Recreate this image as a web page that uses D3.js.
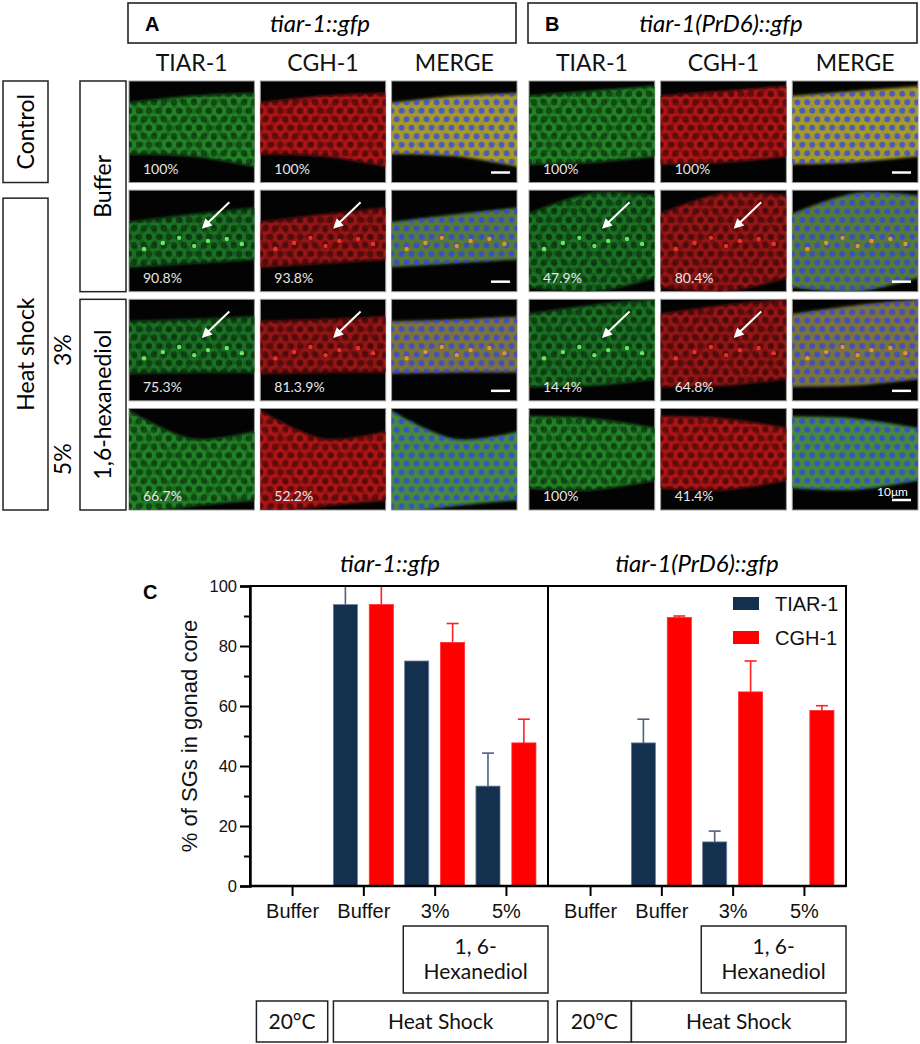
<!DOCTYPE html>
<html><head><meta charset="utf-8">
<script src="https://cdn.jsdelivr.net/npm/d3@7"></script>
<style>body{margin:0;background:#fff}svg{display:block}</style>
</head><body>
<svg id="fig" width="920" height="1044"></svg>
<script>
// ---------------- DATA ----------------
const strains = ["tiar-1::gfp", "tiar-1(PrD6)::gfp"];
const panelLetters = ["A", "B"];
const channels = ["TIAR-1", "CGH-1", "MERGE"];
const rowKeys = ["control", "buffer", "hex3", "hex5"];
const pctA_TIAR = ["100%", "90.8%", "75.3%", "66.7%"];
const pctA_CGH = ["100%", "93.8%", "81.3.9%", "52.2%"];
const pctB_TIAR = ["100%", "47.9%", "14.4%", "100%"];
const pctB_CGH = ["100%", "80.4%", "64.8%", "41.4%"];
const arrowRows = [false, true, true, false];
const scaleBarA = [true, true, true, false];
const scaleBarB = [true, true, true, true];

const catKeys = ["ctrl", "hs", "hx3", "hx5"];
const catLabels = ["Buffer", "Buffer", "3%", "5%"];
const seriesNames = ["TIAR-1", "CGH-1"];
const yTicks = [0, 20, 40, 60, 80, 100];
const yMinorTicks = [10, 30, 50, 70, 90];
// tiar-1::gfp
const gfpTIAR = [0, 93.8, 75.0, 33.3];
const gfpTIARerr = [0, 6.2, 0, 11.0];
const gfpCGH = [0, 93.8, 81.2, 47.7];
const gfpCGHerr = [0, 6.2, 6.3, 7.9];
// tiar-1(PrD6)::gfp
const prdTIAR = [0, 47.7, 14.7, 0];
const prdTIARerr = [0, 7.9, 3.6, 0];
const prdCGH = [0, 89.5, 64.7, 58.5];
const prdCGHerr = [0, 0.5, 10.3, 1.6];

// ---------------- SETUP ----------------
const svg = d3.select("#fig");
const CAL = "Lato, 'Open Sans', sans-serif";
const ARI = "'Liberation Sans', Arial, sans-serif";
const defs = svg.append("defs");

function hexPattern(id, fill, op, r, w, h) {
  const p = defs.append("pattern").attr("id", id).attr("patternUnits", "userSpaceOnUse")
    .attr("width", w).attr("height", h);
  [[w / 2, h / 4], [0, 3 * h / 4], [w, 3 * h / 4]].forEach(c => p.append("circle")
    .attr("cx", c[0]).attr("cy", c[1]).attr("r", r).attr("fill", fill).attr("fill-opacity", op));
}
hexPattern("nucDark", "#000", 0.42, 3.2, 10, 17);
hexPattern("nucDark2", "#000", 0.18, 2.6, 13, 11);
hexPattern("nucBlue", "#2f3ff0", 0.72, 2.9, 10, 17);
hexPattern("nucBlue2", "#3a48ff", 0.12, 2.2, 13, 11);
const soft = defs.append("filter").attr("id", "soft").attr("x", "-10%").attr("y", "-10%")
  .attr("width", "120%").attr("height", "120%");
soft.append("feGaussianBlur").attr("stdDeviation", 1.6);
const soft2 = defs.append("filter").attr("id", "soft2");
soft2.append("feGaussianBlur").attr("stdDeviation", 0.6);

// ---------------- PANELS A & B ----------------
const rowScale = d3.scaleBand().domain(rowKeys).range([81, 510]).paddingInner(0.07);
const colScales = [
  d3.scaleBand().domain(channels).range([129, 517]).paddingInner(0.045),
  d3.scaleBand().domain(channels).range([529, 918]).paddingInner(0.045)
];
const pctTexts = [[pctA_TIAR, pctA_CGH], [pctB_TIAR, pctB_CGH]];
const scaleBars = [scaleBarA, scaleBarB];

// gonad outline (fractions of panel height at x = 0, 0.5, 1)
const shapes = [
  [{t: [0.22, 0.15, 0.12], b: [0.72, 0.74, 0.85]},
   {t: [0.32, 0.24, 0.17], b: [0.76, 0.72, 0.68]},
   {t: [0.22, 0.2, 0.17], b: [0.73, 0.72, 0.72]},
   {t: [0.0, 0.3, 0.22], b: [1.05, 0.96, 0.9]}],
  [{t: [0.15, 0.1, 0.05], b: [0.82, 0.8, 0.74]},
   {t: [0.25, 0.03, 0.06], b: [0.95, 1.0, 0.85]},
   {t: [0.15, 0.06, 0.0], b: [0.86, 0.85, 0.78]},
   {t: [0.08, 0.1, 0.2], b: [0.78, 0.8, 0.7]}]
];
const baseCol = {"TIAR-1": "#23912a", "CGH-1": "#c21616"};
const mergeCol = ["#b8ac2a", "#5f8a34", "#8a8236", "#4f9a3a"];
const spotCol = {"TIAR-1": "#7dff70", "CGH-1": "#ff3a2a", "MERGE": "#ff9a1e"};
const spots = [[0.12, 0.58], [0.27, 0.52], [0.4, 0.47], [0.52, 0.55], [0.63, 0.5], [0.78, 0.48], [0.9, 0.53]];

let clipId = 0;
strains.forEach((strain, si) => {
  const cs = colScales[si];
  const [x0, x1] = cs.range();
  // header box
  svg.append("rect").attr("x", x0 - 1).attr("y", 3).attr("width", x1 - x0).attr("height", 40)
    .attr("fill", "#fff").attr("stroke", "#222").attr("stroke-width", 1.6);
  svg.append("text").attr("x", x0 + 16).attr("y", 31).text(panelLetters[si])
    .attr("font-family", ARI).attr("font-weight", "bold").attr("font-size", 20);
  svg.append("text").attr("x", si === 0 ? 320 : 721).attr("y", 32).text(strain)
    .attr("text-anchor", "middle").attr("font-family", CAL).attr("font-style", "italic").attr("font-size", 24);
  // column headers
  channels.forEach(ch => {
    svg.append("text").attr("x", cs(ch) + cs.bandwidth() / 2).attr("y", 71).text(ch)
      .attr("text-anchor", "middle").attr("font-family", CAL).attr("font-size", 23).attr("fill", "#111");
  });
  rowKeys.forEach((rk, ri) => {
    channels.forEach((ch, ci) => {
      const w = cs.bandwidth(), h = rowScale.bandwidth();
      const g = svg.append("g").attr("transform", `translate(${cs(ch)},${rowScale(rk)})`);
      g.append("rect").attr("width", w).attr("height", h).attr("fill", "#030303")
        .attr("stroke", "#9a9a9a").attr("stroke-width", 1);
      const sh = shapes[si][ri];
      const top = [0, 0.5, 1].map((f, k) => [f * w, sh.t[k] * h]);
      const bot = [1, 0.5, 0].map((f, k) => [f * w, sh.b[2 - k] * h]);
      const lineGen = d3.line().curve(d3.curveCardinal);
      const d = lineGen([[-4, top[0][1]], top[1], [w + 4, top[2][1]]]) +
        "L" + (w + 4) + "," + bot[0][1] +
        lineGen([[w + 4, bot[0][1]], bot[1], [-4, bot[2][1]]]).slice(1).replace(/^[^C]*/, m => "L" + m) + "Z";
      const id = "clip" + (clipId++);
      const cp = defs.append("clipPath").attr("id", id);
      cp.append("rect").attr("width", w).attr("height", h);
      const inner = g.append("g").attr("clip-path", `url(#${id})`);
      const isM = ch === "MERGE";
      const fillC = isM ? mergeCol[ri] : baseCol[ch];
      const dim = (ri === 1 || ri === 2) && !isM ? 0.78 : 0.9;
      const band = inner.append("g").attr("filter", "url(#soft)");
      band.append("path").attr("d", d).attr("fill", fillC).attr("fill-opacity", dim);
      const tex = inner.append("g").attr("filter", "url(#soft2)");
      tex.append("path").attr("d", d).attr("fill", isM ? "url(#nucBlue)" : "url(#nucDark)");
      tex.append("path").attr("d", d).attr("fill", isM ? "url(#nucBlue2)" : "url(#nucDark2)");
      if (arrowRows[ri] || (si === 1 && ri === 1)) {
        spots.forEach(s => inner.append("circle").attr("cx", s[0] * w).attr("cy", s[1] * h)
          .attr("r", 2.2).attr("fill", spotCol[ch]).attr("opacity", 0.85));
      }
      if (!isM) {
        g.append("text").attr("x", 14).attr("y", h - 9).text(pctTexts[si][ci][ri])
          .attr("font-family", CAL).attr("font-size", 14).attr("fill", "#e6e6e6");
      } else if (scaleBars[si][ri]) {
        g.append("line").attr("x1", w - 26).attr("x2", w - 7).attr("y1", h - 10).attr("y2", h - 10)
          .attr("stroke", "#fff").attr("stroke-width", 2.5);
        if (si === 1 && ri === 3) {
          g.append("text").attr("x", w - 10).attr("y", h - 14).attr("text-anchor", "end").text("10μm")
            .attr("font-family", CAL).attr("font-size", 12).attr("fill", "#fff");
        }
      }
      if (arrowRows[ri] && !isM) {
        const ax1 = 0.8 * w, ay1 = 0.12 * h, ax2 = 0.58 * w, ay2 = 0.38 * h;
        const ang = Math.atan2(ay2 - ay1, ax2 - ax1);
        g.append("line").attr("x1", ax1).attr("y1", ay1)
          .attr("x2", ax2 - 6 * Math.cos(ang)).attr("y2", ay2 - 6 * Math.sin(ang))
          .attr("stroke", "#fff").attr("stroke-width", 2);
        const L = 10, W = 5;
        const bx = ax2 - L * Math.cos(ang), by = ay2 - L * Math.sin(ang);
        g.append("polygon").attr("points", [
          [ax2, ay2],
          [bx + W * Math.sin(ang), by - W * Math.cos(ang)],
          [bx - W * Math.sin(ang), by + W * Math.cos(ang)]].map(p => p.join(",")).join(" "))
          .attr("fill", "#fff");
      }
    });
  });
});

// row label boxes
function vbox(x, y0, y1, w, label, fs) {
  svg.append("rect").attr("x", x).attr("y", y0).attr("width", w).attr("height", y1 - y0)
    .attr("fill", "#fff").attr("stroke", "#222").attr("stroke-width", 1.5);
  svg.append("text").attr("transform", `translate(${x + w / 2 + 8},${(y0 + y1) / 2}) rotate(-90)`)
    .attr("text-anchor", "middle").text(label).attr("font-family", CAL).attr("font-size", fs);
}
const rb = k => rowScale(k) + rowScale.bandwidth();
vbox(3, rowScale("control"), rb("control"), 45, "Control", 23);
vbox(3, rowScale("buffer") + 8, rb("hex5"), 45, "Heat shock", 23);
vbox(80, rowScale("control"), rb("buffer"), 46, "Buffer", 23);
vbox(80, rowScale("hex3"), rb("hex5"), 46, "1,6-hexanediol", 23);
[["hex3", "3%"], ["hex5", "5%"]].forEach(([k, t]) => {
  svg.append("text").attr("transform", `translate(${71},${rowScale(k) + rowScale.bandwidth() / 2}) rotate(-90)`)
    .attr("text-anchor", "middle").text(t).attr("font-family", CAL).attr("font-size", 23);
});

// ---------------- PANEL C (bar chart) ----------------
const y = d3.scaleLinear().domain([0, 100]).range([886, 586]);
const chartPanels = [
  {x0: 250, x1: 548, title: strains[0], vals: [gfpTIAR, gfpCGH], errs: [gfpTIARerr, gfpCGHerr], tx: 390},
  {x0: 548, x1: 846, title: strains[1], vals: [prdTIAR, prdCGH], errs: [prdTIARerr, prdCGHerr], tx: 697}
];
const barFill = ["#14304f", "#ff0000"];
const barStroke = ["#6d7f9b", "#ff3030"];
const errCol = ["#4f6180", "#ff2020"];
const sub = d3.scaleBand().domain(seriesNames).range([-30, 30]).paddingInner(0.33);

svg.append("text").attr("x", 143).attr("y", 599).text("C")
  .attr("font-family", ARI).attr("font-weight", "bold").attr("font-size", 20);

chartPanels.forEach((p, pi) => {
  const x = d3.scalePoint().domain(catKeys).range([p.x0, p.x1]).padding(0.59);
  p.x = x;
  svg.append("text").attr("x", p.tx).attr("y", 572).attr("text-anchor", "middle").text(p.title)
    .attr("font-family", CAL).attr("font-style", "italic").attr("font-size", 24);
  seriesNames.forEach((s, k) => {
    const gb = svg.append("g");
    gb.selectAll("rect").data(catKeys.map((c, i) => ({c, v: p.vals[k][i], e: p.errs[k][i]})).filter(d => d.v > 0))
      .join("rect")
      .attr("x", d => x(d.c) + sub(s)).attr("y", d => y(d.v))
      .attr("width", sub.bandwidth()).attr("height", d => y(0) - y(d.v))
      .attr("fill", barFill[k]).attr("stroke", barStroke[k]).attr("stroke-width", 0.8);
    const ge = svg.append("g").attr("stroke", errCol[k]).attr("stroke-width", 1.6);
    catKeys.forEach((c, i) => {
      const v = p.vals[k][i], e = p.errs[k][i];
      if (e <= 0) return;
      const cx = x(c) + sub(s) + sub.bandwidth() / 2;
      const top = Math.min(100, v + e);
      ge.append("line").attr("x1", cx).attr("x2", cx).attr("y1", y(v)).attr("y2", y(top));
      ge.append("line").attr("x1", cx - 6).attr("x2", cx + 6).attr("y1", y(top)).attr("y2", y(top));
    });
  });
  // x axis
  const xa = svg.append("g").attr("transform", `translate(0,${y(0)})`)
    .call(d3.axisBottom(x).tickSize(10).tickPadding(8).tickFormat((d, i) => catLabels[i]));
  xa.select(".domain").remove();
  xa.selectAll(".tick line").attr("stroke", "#000").attr("stroke-width", 2);
  xa.selectAll(".tick text").attr("font-family", ARI).attr("font-size", 20).attr("fill", "#111");
});

// frame
svg.append("rect").attr("x", 250).attr("y", y(100)).attr("width", 846 - 250).attr("height", y(0) - y(100))
  .attr("fill", "none").attr("stroke", "#000").attr("stroke-width", 2);
svg.append("line").attr("x1", 548).attr("x2", 548).attr("y1", y(100)).attr("y2", y(0))
  .attr("stroke", "#000").attr("stroke-width", 2);
svg.append("line").attr("x1", 250).attr("x2", 846).attr("y1", y(0)).attr("y2", y(0))
  .attr("stroke", "#000").attr("stroke-width", 2.5);

// y axis
const ya = svg.append("g").attr("transform", "translate(250,0)")
  .call(d3.axisLeft(y).tickValues(yTicks).tickSize(10).tickPadding(3));
ya.select(".domain").attr("stroke-width", 2.5);
ya.selectAll(".tick line").attr("stroke-width", 2);
ya.selectAll(".tick text").attr("font-family", ARI).attr("font-size", 16.5).attr("fill", "#111");
const ym = svg.append("g").attr("transform", "translate(250,0)")
  .call(d3.axisLeft(y).tickValues(yMinorTicks).tickSize(6).tickFormat(""));
ym.select(".domain").remove();
ym.selectAll(".tick line").attr("stroke-width", 2);
svg.append("text").attr("transform", `translate(197,${(y(0) + y(100)) / 2}) rotate(-90)`)
  .attr("text-anchor", "middle").text("% of SGs in gonad core")
  .attr("font-family", ARI).attr("font-size", 22).attr("fill", "#111");

// legend
seriesNames.forEach((s, k) => {
  svg.append("rect").attr("x", 733).attr("y", 597 + k * 34).attr("width", 26).attr("height", 13)
    .attr("fill", barFill[k]);
  svg.append("text").attr("x", 775).attr("y", 611 + k * 34).text(s)
    .attr("font-family", ARI).attr("font-size", 20).attr("fill", "#111");
});

// condition boxes under the axis
function hbox(x0, x1, y0, y1, lines, fs) {
  svg.append("rect").attr("x", x0).attr("y", y0).attr("width", x1 - x0).attr("height", y1 - y0)
    .attr("fill", "#fff").attr("stroke", "#222").attr("stroke-width", 1.5);
  const cy = (y0 + y1) / 2, lh = 25;
  lines.forEach((t, i) => {
    svg.append("text").attr("x", (x0 + x1) / 2).attr("y", cy + (i - (lines.length - 1) / 2) * lh + fs * 0.35)
      .attr("text-anchor", "middle").text(t).attr("font-family", CAL).attr("font-size", fs).attr("fill", "#111");
  });
}
chartPanels.forEach((p, pi) => {
  const x = p.x, st = x.step();
  hbox(x("hx3") - 0.44 * st, p.x1, 926, 993, ["1, 6-", "Hexanediol"], 21);
  if (pi === 0) {
    hbox(x("ctrl") - 0.5 * st, x("ctrl") + 0.5 * st, 1001, 1042, ["20°C"], 21);
    hbox(x("ctrl") + 0.58 * st, p.x1, 1001, 1042, ["Heat Shock"], 21);
  } else {
    hbox(x("ctrl") - 0.46 * st, x("ctrl") + 0.58 * st, 1001, 1042, ["20°C"], 21);
    hbox(x("ctrl") + 0.58 * st, p.x1, 1001, 1042, ["Heat Shock"], 21);
  }
});
</script>
</body></html>
